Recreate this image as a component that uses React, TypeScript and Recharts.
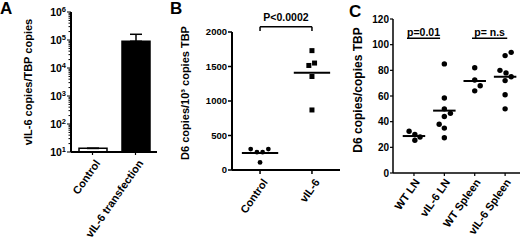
import React from "react";
import {
  BarChart,
  Bar,
  Cell,
  ErrorBar,
  XAxis,
  YAxis,
  ScatterChart,
  Scatter,
  ReferenceLine,
  Label,
} from "recharts";

const FONT = "'Liberation Sans', Arial, Helvetica, sans-serif";

// Panel A: vIL-6 copies per TBP copies (log scale)
const groupsA = ["Control", "vIL-6 transfection"];
const copiesA = [13.5, 90000];
const errA = [0, 70000];
const decadesA = [10, 100, 1000, 10000, 100000, 1000000];

// Panel B: D6 copies / 10^3 copies TBP
const groupsB = ["Control", "vIL-6"];
const controlB = [303, 259, 259, 303, 110];
const controlBJitter = [-0.18, -0.06, 0.05, 0.16, 0];
const vil6B = [1730, 1515, 1550, 1355, 870];
const vil6BJitter = [0, -0.06, 0.05, 0, 0];
const meanB = [248, 1410];
const ticksB = [0, 500, 1000, 1500, 2000];

// Panel C: D6 copies / copies TBP
const groupsC = ["WT LN", "vIL-6 LN", "WT Spleen", "vIL-6 Spleen"];
const wtLN = [32.5, 30, 28, 25.5];
const wtLNJitter = [-0.16, 0.03, 0.2, 0.03];
const vil6LN = [85, 58.5, 50, 46.5, 44, 38, 35, 27.5];
const vil6LNJitter = [0, 0, 0, 0.2, 0, -0.17, 0, 0];
const wtSpleen = [82, 72.5, 68, 64];
const wtSpleenJitter = [0, 0, 0.18, 0];
const vil6Spleen = [94, 91.5, 80, 78, 75, 72, 61, 50];
const vil6SpleenJitter = [0.2, 0, -0.17, 0.03, 0.2, 0, 0, 0];
const meanC = [28.8, 48.6, 71.7, 75];
const ticksC = [0, 20, 40, 60, 80, 100, 120];
const bracketsC = [
  { text: "p=0.01", from: -0.23, to: 0.86, y: 105 },
  { text: "p= n.s", from: 1.91, to: 3.07, y: 105 },
];

const dataA = groupsA.map((name, i) => ({ name, v: copiesA[i], err: [0, errA[i]] }));
const minorA: number[] = [];
decadesA.slice(0, -1).forEach((d) => {
  for (let m = 2; m <= 9; m++) minorA.push(d * m);
});
const ticksA = [...decadesA, ...minorA].sort((a, b) => a - b);

const toPoints = (center: number, values: number[], jitter: number[]) =>
  values.map((y, i) => ({ x: center + jitter[i], y }));

const textStyle = { fontFamily: FONT, fontWeight: "bold" as const, fill: "#000" };

function RotTick(props: any) {
  const { x, y, payload, names, dx = 3, dy = 10 } = props;
  const label = names ? names[Math.round(payload.value)] : payload.value;
  const ax = x + dx;
  const ay = y + dy;
  return (
    <text
      x={ax}
      y={ay}
      transform={`rotate(-55, ${ax}, ${ay})`}
      textAnchor="end"
      dominantBaseline="central"
      fontSize={11}
      {...textStyle}
    >
      {label}
    </text>
  );
}

function LogTick(props: any) {
  const { x, y, payload } = props;
  const lg = Math.log10(payload.value);
  const exp = Math.round(lg);
  const major = Math.abs(lg - exp) < 1e-6;
  return (
    <g>
      <line x1={x - (major ? 4 : 2.5)} x2={x} y1={y} y2={y} stroke="#000" strokeWidth={1} />
      {major && (
        <text x={x - 5} y={y} dy="0.38em" textAnchor="end" fontSize={10.5} {...textStyle}>
          <tspan>10</tspan>
          <tspan dy="-0.5em" fontSize={7.5}>
            {exp}
          </tspan>
        </text>
      )}
    </g>
  );
}

const yTitle = (text: string, dx: number, shift: number, size: number) => (props: any) => {
  const vb = props.viewBox;
  const cx = vb.x + dx;
  const cy = vb.y + vb.height / 2 + shift;
  return (
    <text
      x={cx}
      y={cy}
      transform={`rotate(-90, ${cx}, ${cy})`}
      textAnchor="middle"
      dominantBaseline="central"
      fontSize={size}
      {...textStyle}
    >
      {text}
    </text>
  );
};

const circle = (r: number) => (p: any) => <circle cx={p.cx} cy={p.cy} r={r} fill="#000" />;
const square = (s: number) => (p: any) => (
  <rect x={p.cx - s / 2} y={p.cy - s / 2} width={s} height={s} fill="#000" />
);

const panelLetter = (ch: string, left: number, top: number) => (
  <div
    style={{
      position: "absolute",
      left,
      top,
      fontFamily: FONT,
      fontWeight: "bold",
      fontSize: 17,
      lineHeight: "17px",
    }}
  >
    {ch}
  </div>
);

function PanelA() {
  return (
    <BarChart
      width={170}
      height={242}
      data={dataA}
      margin={{ top: 12, right: 13, bottom: 0, left: 26 }}
    >
      <XAxis
        dataKey="name"
        height={90}
        interval={0}
        tickSize={3}
        tickMargin={0}
        axisLine={{ stroke: "#000", strokeWidth: 2 }}
        tickLine={{ stroke: "#000", strokeWidth: 1.2 }}
        tick={<RotTick dx={5} dy={6} />}
      />
      <YAxis
        type="number"
        scale="log"
        domain={[10, 1000000]}
        allowDataOverflow
        ticks={ticksA}
        interval={0}
        width={45}
        tickLine={false}
        tickSize={0}
        tickMargin={0}
        axisLine={{ stroke: "#000", strokeWidth: 2 }}
        tick={<LogTick />}
      >
        <Label content={yTitle("vIL-6 copies/TBP copies", 2, 0, 11)} />
      </YAxis>
      <Bar dataKey="v" barSize={28} isAnimationActive={false} stroke="#000" strokeWidth={1.5}>
        {dataA.map((d, i) => (
          <Cell key={d.name} fill={i === 0 ? "#fff" : "#000"} />
        ))}
        <ErrorBar dataKey="err" width={6} stroke="#000" strokeWidth={1.5} direction="y" />
      </Bar>
    </BarChart>
  );
}

function PanelB() {
  return (
    <ScatterChart width={170} height={242} margin={{ top: 32, right: 0, bottom: 0, left: 22 }}>
      <XAxis
        type="number"
        dataKey="x"
        domain={[-0.54, 1.54]}
        allowDataOverflow
        ticks={[0, 1]}
        interval={0}
        height={72}
        tickSize={4}
        tickMargin={0}
        axisLine={{ stroke: "#000", strokeWidth: 2 }}
        tickLine={{ stroke: "#000", strokeWidth: 1.5 }}
        tick={<RotTick names={groupsB} dx={5} dy={6} />}
      />
      <YAxis
        type="number"
        dataKey="y"
        domain={[0, 2000]}
        allowDataOverflow
        ticks={ticksB}
        interval={0}
        width={40}
        tickSize={4}
        tickMargin={1}
        axisLine={{ stroke: "#000", strokeWidth: 2 }}
        tickLine={{ stroke: "#000", strokeWidth: 1.5 }}
        tick={{ fontSize: 9.5, ...textStyle }}
      >
        <Label content={yTitle("D6 copies/10³ copies TBP", -7, -8, 11)} />
      </YAxis>
      <Scatter
        data={toPoints(0, controlB, controlBJitter)}
        shape={circle(2.4)}
        isAnimationActive={false}
      />
      <Scatter
        data={toPoints(1, vil6B, vil6BJitter)}
        shape={square(5)}
        isAnimationActive={false}
      />
      {meanB.map((m, i) => (
        <ReferenceLine
          key={`mb${i}`}
          segment={[
            { x: i - 0.35, y: m },
            { x: i + 0.35, y: m },
          ]}
          stroke="#000"
          strokeWidth={2}
        />
      ))}
      <ReferenceLine
        segment={[
          { x: 0, y: 2075 },
          { x: 1, y: 2075 },
        ]}
        ifOverflow="visible"
        stroke="#000"
        strokeWidth={1.5}
      >
        <Label value="P<0.0002" position="top" offset={6} fontSize={10.5} {...textStyle} />
      </ReferenceLine>
      {[0, 1].map((c) => (
        <ReferenceLine
          key={`bt${c}`}
          segment={[
            { x: c, y: 2075 },
            { x: c, y: 2015 },
          ]}
          ifOverflow="visible"
          stroke="#000"
          strokeWidth={1.5}
        />
      ))}
    </ScatterChart>
  );
}

function PanelC() {
  const series = [
    toPoints(0, wtLN, wtLNJitter),
    toPoints(1, vil6LN, vil6LNJitter),
    toPoints(2, wtSpleen, wtSpleenJitter),
    toPoints(3, vil6Spleen, vil6SpleenJitter),
  ];
  return (
    <ScatterChart width={180} height={242} margin={{ top: 19, right: 0, bottom: 0, left: 8 }}>
      <XAxis
        type="number"
        dataKey="x"
        domain={[-0.69, 3.49]}
        allowDataOverflow
        ticks={[0, 1, 2, 3]}
        interval={0}
        height={69}
        tickSize={3}
        tickMargin={0}
        axisLine={{ stroke: "#000", strokeWidth: 1.5 }}
        tickLine={{ stroke: "#000", strokeWidth: 1.2 }}
        tick={<RotTick names={groupsC} dx={3} dy={4} />}
      />
      <YAxis
        type="number"
        dataKey="y"
        domain={[0, 120]}
        allowDataOverflow
        ticks={ticksC}
        interval={0}
        width={45}
        tickSize={3}
        tickMargin={1}
        axisLine={{ stroke: "#000", strokeWidth: 1.5 }}
        tickLine={{ stroke: "#000", strokeWidth: 1.2 }}
        tick={{ fontSize: 10, ...textStyle }}
      >
        <Label content={yTitle("D6 copies/copies TBP", 10, -6, 12)} />
      </YAxis>
      {series.map((pts, i) => (
        <Scatter key={`s${i}`} data={pts} shape={circle(2.7)} isAnimationActive={false} />
      ))}
      {meanC.map((m, i) => (
        <ReferenceLine
          key={`mc${i}`}
          segment={[
            { x: i - 0.37, y: m },
            { x: i + 0.37, y: m },
          ]}
          stroke="#000"
          strokeWidth={2}
        />
      ))}
      {bracketsC.map((b) => (
        <ReferenceLine
          key={b.text}
          segment={[
            { x: b.from, y: b.y },
            { x: b.to, y: b.y },
          ]}
          ifOverflow="visible"
          stroke="#000"
          strokeWidth={1.5}
        >
          <Label value={b.text} position="top" offset={2} fontSize={10.5} {...textStyle} />
        </ReferenceLine>
      ))}
    </ScatterChart>
  );
}

export default function App() {
  return (
    <div
      style={{
        position: "absolute",
        left: 0,
        top: 0,
        width: 520,
        height: 242,
        background: "#fff",
        overflow: "hidden",
      }}
    >
      <div style={{ position: "absolute", left: 0, top: 0 }}>
        <PanelA />
      </div>
      <div style={{ position: "absolute", left: 170, top: 0 }}>
        <PanelB />
      </div>
      <div style={{ position: "absolute", left: 340, top: 0 }}>
        <PanelC />
      </div>
      {panelLetter("A", 0, 0)}
      {panelLetter("B", 170, 0)}
      {panelLetter("C", 349, 3)}
    </div>
  );
}
